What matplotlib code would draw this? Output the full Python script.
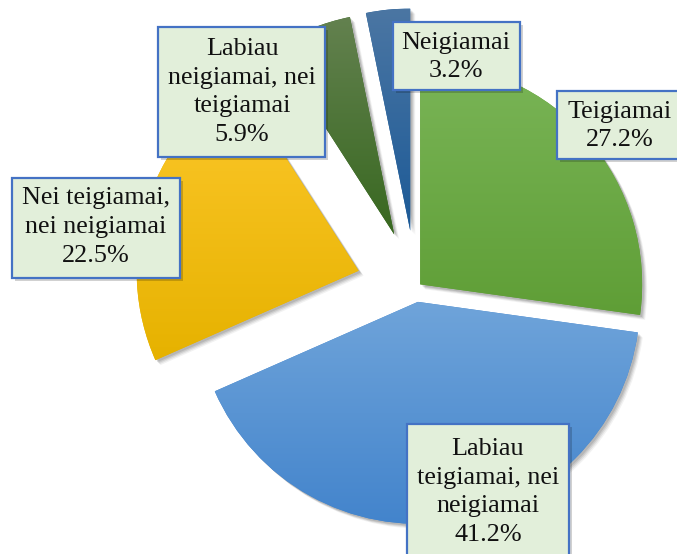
import numpy as np
import matplotlib
matplotlib.use("Agg")
import matplotlib.pyplot as plt
import matplotlib.transforms as mtransforms
from matplotlib.patches import Rectangle, Wedge
from matplotlib.colors import to_rgb

# duomenys
labels = ["Teigiamai",
          "Labiau\nteigiamai, nei\nneigiamai",
          "Nei teigiamai,\nnei neigiamai",
          "Labiau\nneigiamai, nei\nteigiamai",
          "Neigiamai"]
shares = [27.2, 41.2, 22.5, 5.9, 3.2]
explode = [0.025, 0.063, 0.27, 0.26, 0.26]

# spalvos (virsus -> apacia)
top_colors = ["#7ab557", "#6fa4da", "#fdc82c", "#63814f", "#4b76a3"]
bottom_colors = ["#5f9e36", "#4384cc", "#e6b200", "#386820", "#1c5a97"]

W, H = 677, 554
cx, cy, R = 416, 288, 222  # pyrago centras ir spindulys pikseliais

# etikeciu dezutes pikseliais: kaire, virsus, desine, apacia
label_boxes = [(557, 91, 684, 159),
               (407, 424, 569, 562),
               (12, 178, 180, 278),
               (158, 27, 325, 157),
               (393, 22, 520, 90)]
text_centers = [(620, 126), (488, 492), (96, 227), (242, 92), (456, 57)]

fig = plt.figure(figsize=(W / 100, H / 100), dpi=100)
ax = fig.add_axes([0, 0, 1, 1])

wedges, _ = ax.pie(shares, explode=explode, startangle=90, counterclock=False,
                   radius=1, colors=bottom_colors,
                   wedgeprops=dict(linewidth=0, zorder=2))

ax.set_aspect("equal")
ax.axis("off")

# seseliai ir gradientai
grad = np.linspace(0, 1, 256)[:, None, None]
for w, ctop, cbot in zip(wedges, top_colors, bottom_colors):
    for k, a in [(5, 0.05), (4, 0.07), (3, 0.09), (2, 0.10)]:
        sh = Wedge((w.center[0] + k / R, w.center[1] - k / R), w.r, w.theta1, w.theta2,
                   facecolor="black", alpha=a, linewidth=0, zorder=1)
        ax.add_patch(sh)
    ext = w.get_path().get_extents()
    t = np.array(to_rgb(ctop))
    b = np.array(to_rgb(cbot))
    img = b + (t - b) * grad
    img = np.repeat(img, 2, axis=1)
    im = ax.imshow(img, extent=[ext.x0, ext.x1, ext.y0, ext.y1], origin="lower",
                   aspect="auto", interpolation="bilinear", zorder=3)
    im.set_clip_path(w)

ax.set_xlim(-cx / R, (W - cx) / R)
ax.set_ylim(-(H - cy) / R, cy / R)

# pikseliu koordinates (y zemyn)
pix = mtransforms.Affine2D().scale(1 / W, -1 / H).translate(0, 1) + fig.transFigure

for lab, val, box, tc in zip(labels, shares, label_boxes, text_centers):
    x0, y0, x1, y1 = box
    shadow = Rectangle((x0 + 3, y0 + 3), x1 - x0, y1 - y0, transform=pix,
                       facecolor="black", alpha=0.18, linewidth=0, zorder=5)
    fig.add_artist(shadow)
    rect = Rectangle((x0, y0), x1 - x0, y1 - y0, transform=pix,
                     facecolor="#e2efda", edgecolor="#4472c4", linewidth=1.6, zorder=6)
    fig.add_artist(rect)
    fig.text(tc[0] / W, 1 - tc[1] / H, f"{lab}\n{val:.1f}%", ha="center", va="center",
             fontsize=18.8, family="Liberation Serif", color="#111111",
             linespacing=1.4, zorder=7)

fig.savefig("out.png", dpi=100)
